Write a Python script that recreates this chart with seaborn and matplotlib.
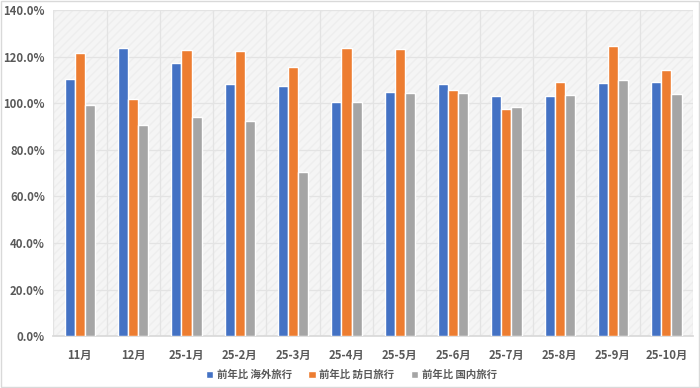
import matplotlib
matplotlib.use("Agg")
import matplotlib.pyplot as plt
import matplotlib.patches as mpatches
import seaborn as sns
import pandas as pd
import numpy as np

categories = ["11月", "12月", "25-1月", "25-2月", "25-3月", "25-4月", "25-5月",
              "25-6月", "25-7月", "25-8月", "25-9月", "25-10月"]
overseas = [110.4, 124.0, 117.3, 108.3, 107.7, 100.6, 104.9, 108.3, 103.1, 103.4, 108.6, 109.3]
inbound = [121.9, 101.9, 123.1, 122.6, 115.6, 124.0, 123.3, 105.7, 97.7, 109.3, 124.6, 114.4]
domestic = [99.4, 90.9, 94.3, 92.6, 70.7, 100.7, 104.4, 104.7, 98.6, 103.7, 109.9, 104.1]
series_names = ["前年比 海外旅行", "前年比 訪日旅行", "前年比 国内旅行"]
colors = ["#4472C4", "#ED7D31", "#A5A5A5"]

rows = []
for name, vals in zip(series_names, [overseas, inbound, domestic]):
    for c, v in zip(categories, vals):
        rows.append({"月": c, "系列": name, "値": v})
df = pd.DataFrame(rows)

sns.set_theme(style="white")
plt.rcParams['font.family'] = ['Noto Sans CJK JP', 'DejaVu Sans']

fig = plt.figure(figsize=(7, 3.88), dpi=100)
ax = fig.add_axes([0.076, 0.134, 0.914, 0.839])
ax.set_facecolor("#f5f5f5")
bg = mpatches.Rectangle((0, 0), 1, 1, transform=ax.transAxes, facecolor="#f5f5f5",
                        edgecolor="#eeeeee", hatch="////", linewidth=0, zorder=0)
ax.add_patch(bg)

sns.barplot(data=df, x="月", y="値", hue="系列", palette=colors, width=0.57, gap=0,
            ax=ax, saturation=1, legend=True, zorder=3)

ax.set_ylim(0, 140)
ax.set_xlim(-0.5, len(categories) - 0.5)
ax.set_yticks(np.arange(0, 141, 20))
ax.set_yticklabels([f"{v:.1f}%" for v in np.arange(0, 141, 20)])
ax.set_xticks(np.arange(-0.5, len(categories), 1), minor=True)
ax.grid(True, axis="y", which="major", color="#e3e3e3", linewidth=0.9, zorder=1)
ax.grid(True, axis="x", which="minor", color="#e3e3e3", linewidth=0.9, zorder=1)
ax.grid(False, axis="x", which="major")
ax.set_axisbelow(True)
for s in ["top", "right", "left"]:
    ax.spines[s].set_visible(False)
ax.spines["bottom"].set_color("#d9d9d9")
ax.tick_params(axis="both", which="both", length=0, labelsize=8.2, labelcolor="#595959")
ax.tick_params(axis="x", which="minor", length=5, color="#d9d9d9", direction="out")
ax.tick_params(axis="x", pad=9)
ax.tick_params(axis="y", pad=6)
for lab in ax.get_xticklabels() + ax.get_yticklabels():
    lab.set_fontweight("bold")
ax.set_xlabel("")
ax.set_ylabel("")

handles, labels = ax.get_legend_handles_labels()
ax.legend_.remove()
leg = fig.legend(handles, labels, loc="center", bbox_to_anchor=(0.502, 0.034), ncol=3,
                 frameon=False, handlelength=0.7, handleheight=0.7, handletextpad=0.35,
                 columnspacing=1.6, prop={"size": 7.5, "weight": "bold"})
for t in leg.get_texts():
    t.set_color("#595959")

border = mpatches.Rectangle((0.002, 0.003), 0.996, 0.994, transform=fig.transFigure,
                            fill=False, edgecolor="#d9d9d9", linewidth=1)
fig.patches.append(border)

fig.savefig("out.png", dpi=100)
